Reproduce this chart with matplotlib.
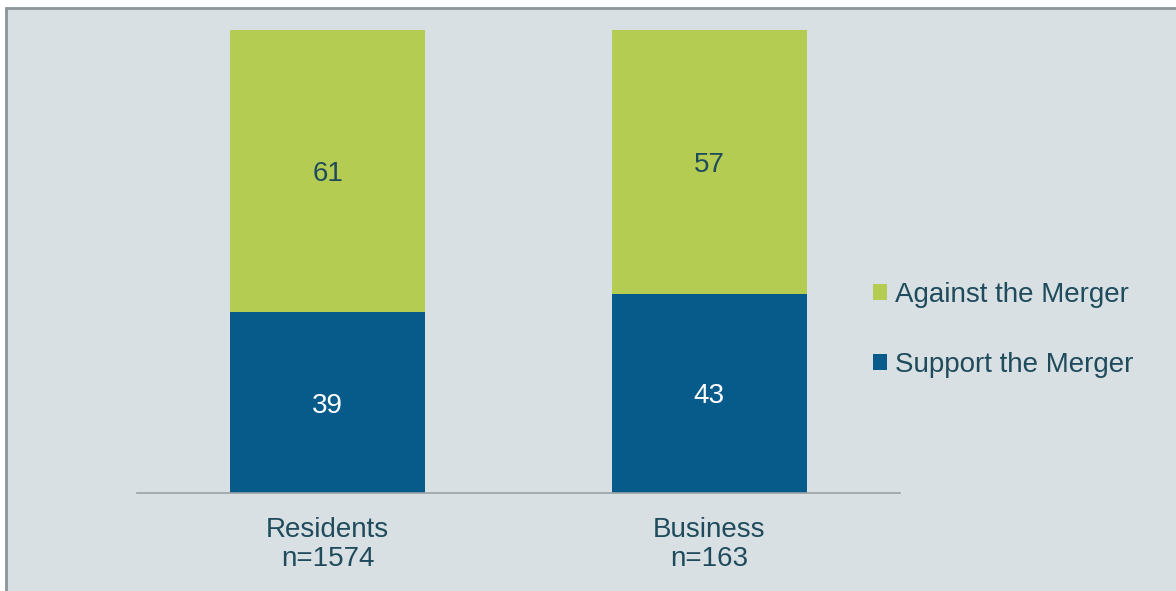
import matplotlib.pyplot as plt
from matplotlib.patches import Rectangle

# survey results (percent)
groups = ['Residents\nn=1574', 'Business\nn=163']
support = [39, 43]
against = [61, 57]

bg = '#d8e0e3'
green = '#b3cc51'
blue = '#065b8a'
txt = '#1f4b5c'

plt.rcParams['font.family'] = ['Liberation Sans', 'DejaVu Sans']

fig = plt.figure(figsize=(11.76, 5.91), dpi=100)
fig.patch.set_facecolor('white')
# framed panel
fig.patches.append(Rectangle((6 / 1176, -0.05), 1.1, 1.05 - 8 / 591,
                             transform=fig.transFigure, facecolor=bg,
                             edgecolor='#8a9499', lw=2, zorder=-5))

ax = fig.add_axes([137 / 1176, 1 - 493 / 591, 763 / 1176, 463 / 591])
ax.set_facecolor('none')

x = range(len(groups))
w = 0.512
b1 = ax.bar(x, support, w, color=blue, label='Support the Merger')
b2 = ax.bar(x, against, w, bottom=support, color=green, label='Against the Merger')

for i in x:
    ax.text(i, support[i] / 2, str(support[i]), ha='center', va='center_baseline',
            color='white', fontsize=20)
    ax.text(i, support[i] + against[i] / 2, str(against[i]), ha='center',
            va='center_baseline', color=txt, fontsize=20)

ax.set_xlim(-0.5, 1.5)
ax.set_ylim(0, 100)
ax.set_xticks(list(x))
ax.set_xticklabels(groups, fontsize=20, color=txt, linespacing=1.15)
ax.tick_params(axis='x', length=0, pad=17)
ax.set_yticks([])
for s in ['top', 'right', 'left']:
    ax.spines[s].set_visible(False)
ax.spines['bottom'].set_color('#9aa2a5')
ax.spines['bottom'].set_linewidth(1.2)

leg = fig.legend(handles=[b2, b1], loc='center left',
                 bbox_to_anchor=(848 / 1176, 1 - 330 / 591), frameon=False,
                 fontsize=20, labelcolor=txt, handlelength=0.5,
                 handleheight=0.5, handletextpad=0.3, labelspacing=1.6)

fig.savefig('out.png', dpi=100)
